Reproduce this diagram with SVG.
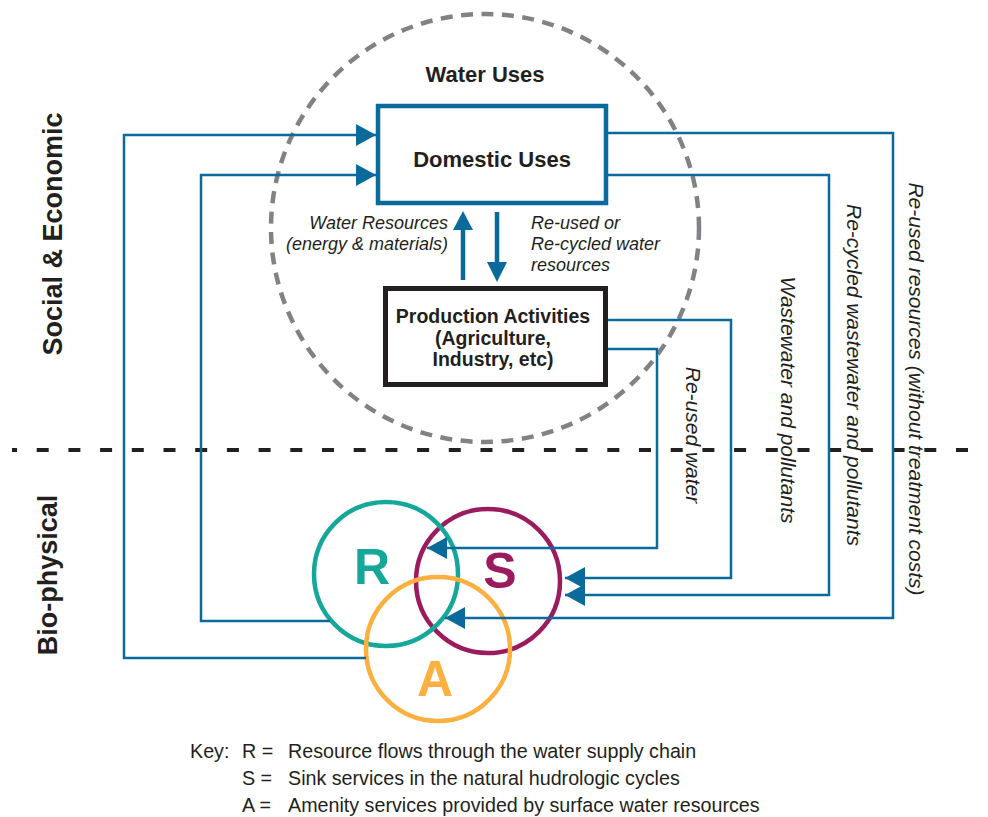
<svg xmlns="http://www.w3.org/2000/svg" width="988" height="817" viewBox="0 0 988 817">
<defs>
<style>
.conn{fill:none;stroke:#0b6a9c;stroke-width:2.5}
.thick{fill:none;stroke:#0b6a9c;stroke-width:4.5}
.lbl{font-family:"Liberation Sans",Arial,sans-serif;fill:#231f20}
.b{font-weight:bold}
.it{font-style:italic;font-size:18px}
.rot{font-style:italic;font-size:21px;text-anchor:middle}
.key{font-size:19.7px}
.big{font-weight:bold;font-size:50px;text-anchor:middle}
</style>
<marker id="ah" markerUnits="userSpaceOnUse" markerWidth="20" markerHeight="22" refX="20" refY="11" orient="auto" viewBox="0 0 20 22">
<path d="M0,0 L20,11 L0,22 Z" fill="#0b6a9c"/>
</marker>
</defs>
<rect width="988" height="817" fill="#fff"/>

<g id="divider">
<line x1="12" y1="450" x2="972" y2="450" stroke="#231f20" stroke-width="4" stroke-dasharray="12 19.7" stroke-dashoffset="7"/>
</g>

<g id="water-uses">
<circle cx="485" cy="228" r="214" fill="none" stroke="#808285" stroke-width="4.5" stroke-dasharray="12 8.5"/>
<text class="lbl b" x="485" y="82" font-size="22" text-anchor="middle">Water Uses</text>
</g>

<g id="circles">
<circle id="S" cx="488" cy="581" r="72" fill="none" stroke="#9b1b5f" stroke-width="4.5"/>
<circle id="R" cx="386" cy="574" r="72" fill="none" stroke="#16a79b" stroke-width="4.5"/>
<circle id="A" cx="438" cy="649" r="72" fill="none" stroke="#fbb040" stroke-width="4.5"/>
<text class="lbl big" x="372" y="584" style="fill:#16a79b">R</text>
<text class="lbl big" x="500" y="588" style="fill:#9b1b5f">S</text>
<text class="lbl big" x="435" y="696" style="fill:#fbb040">A</text>
</g>

<g id="connectors">
<path class="conn" d="M366,658 H124 V135 H376" marker-end="url(#ah)"/>
<path class="conn" d="M330,621 H201 V175 H376" marker-end="url(#ah)"/>
<path class="conn" d="M606,133 H893 V618 H445" marker-end="url(#ah)"/>
<path class="conn" d="M606,175 H829 V595 H565" marker-end="url(#ah)"/>
<path class="conn" d="M606,320 H731 V578 H565" marker-end="url(#ah)"/>
<path class="conn" d="M606,349 H657 V548 H427" marker-end="url(#ah)"/>
<path class="thick" d="M463,280 V228"/>
<path d="M453,230 L463,211 L473,230 Z" fill="#0b6a9c"/>
<path class="thick" d="M497,212 V264"/>
<path d="M487,262 L497,282 L507,262 Z" fill="#0b6a9c"/>
</g>

<g id="domestic">
<rect x="378" y="106" width="228" height="97" fill="#fff" stroke="#0b6a9c" stroke-width="4.5"/>
<text class="lbl b" x="492" y="167" font-size="22" text-anchor="middle">Domestic Uses</text>
</g>

<g id="production">
<rect x="385.5" y="288.5" width="220" height="96" fill="#fff" stroke="#231f20" stroke-width="5"/>
<text class="lbl b" font-size="19.5" text-anchor="middle"><tspan x="493" y="323">Production Activities</tspan><tspan x="493" y="345">(Agriculture,</tspan><tspan x="493" y="366">Industry, etc)</tspan></text>
</g>

<g id="labels">
<text class="lbl it" text-anchor="end"><tspan x="448" y="229">Water Resources</tspan><tspan x="448" y="250">(energy &amp; materials)</tspan></text>
<text class="lbl it"><tspan x="531" y="229">Re-used or</tspan><tspan x="531" y="250">Re-cycled water</tspan><tspan x="531" y="271">resources</tspan></text>
<text class="lbl rot" transform="translate(686,435) rotate(90)">Re-used water</text>
<text class="lbl rot" transform="translate(781,400) rotate(90)">Wastewater and pollutants</text>
<text class="lbl rot" transform="translate(847,375) rotate(90)">Re-cycled wastewater and pollutants</text>
<text class="lbl rot" transform="translate(909,389) rotate(90)">Re-used resources (without treatment costs)</text>
<text class="lbl b" font-size="27" text-anchor="middle" transform="translate(62,234) rotate(-90)">Social &amp; Economic</text>
<text class="lbl b" font-size="27" text-anchor="middle" transform="translate(57,575) rotate(-90)">Bio-physical</text>
</g>

<g id="key">
<text class="lbl key" x="190" y="758">Key:</text>
<text class="lbl key" x="242" y="758">R =</text>
<text class="lbl key" x="288" y="758">Resource flows through the water supply chain</text>
<text class="lbl key" x="242" y="785">S =</text>
<text class="lbl key" x="288" y="785">Sink services in the natural hudrologic cycles</text>
<text class="lbl key" x="242" y="812">A =</text>
<text class="lbl key" x="288" y="812">Amenity services provided by surface water resources</text>
</g>
</svg>
